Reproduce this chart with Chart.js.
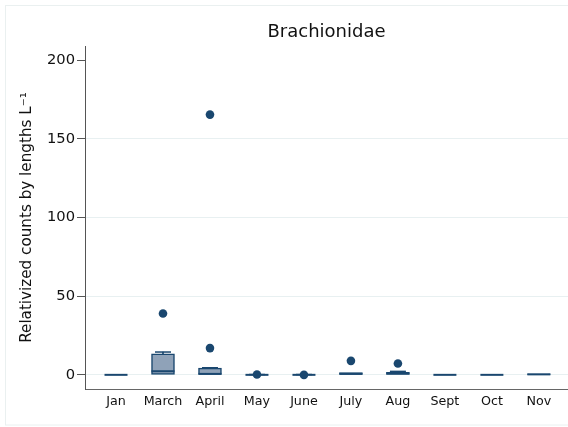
<!DOCTYPE html>
<html>
<head>
<meta charset="utf-8">
<script src="https://cdn.jsdelivr.net/npm/chart.js@4.4.0/dist/chart.umd.min.js"></script>
<style>
  html, body { margin: 0; padding: 0; background: #ffffff; }
  #wrap { width: 568px; height: 427px; }
</style>
</head>
<body>
<div id="wrap"><canvas id="c" width="568" height="427"></canvas></div>
<script>
// Données (boîtes à moustaches par mois)
const months = ['Jan', 'March', 'April', 'May', 'June', 'July', 'Aug', 'Sept', 'Oct', 'Nov']
const q1 = [0, 0.2, 0.2, 0, 0, 0.2, 0.2, 0, 0, 0]
const median = [0, 2.3, 0.6, 0, 0, 0.6, 0.8, 0, 0, 0.3]
const q3 = [0, 13.4, 4.3, 0, 0, 1.4, 1.6, 0, 0, 0.7]
const whiskerHi = [0, 14.5, 4.5, 0.2, 0.2, 1.4, 2.2, 0, 0, 0.7]
const outlierMonth = ['March', 'April', 'April', 'May', 'June', 'July', 'Aug']
const outlierValue = [39, 17, 165.4, 0.2, 0, 8.9, 7.2]
const yTicks = [0, 50, 100, 150, 200]

const navy = '#1a476f'
const boxFill = '#8fa2b8'
const font = 'DejaVu Sans, Liberation Sans, sans-serif'
const pos = m => months.indexOf(m) + 1

const boxes = months.map((m, i) => ({ x: i + 1, y: [q1[i], q3[i]] }))
  .filter(d => d.y[1] - d.y[0] > 0.5)
const whiskers = months.map((m, i) => ({ x: i + 1, y: [q3[i], whiskerHi[i]] }))
  .filter(d => d.y[1] > d.y[0])
const medians = months.map((m, i) => ({ x: i + 1, y: median[i] }))
const caps = months.map((m, i) => ({ x: i + 1, y: whiskerHi[i] }))
  .filter((d, i) => whiskerHi[i] > q3[i])
const outliers = outlierMonth.map((m, i) => ({ x: pos(m), y: outlierValue[i] }))

// cadre extérieur léger, façon Stata
const frame = {
  id: 'frame',
  beforeDraw(chart) {
    const ctx = chart.ctx
    ctx.save()
    ctx.strokeStyle = '#eaf0f0'
    ctx.lineWidth = 1
    ctx.strokeRect(5.5, 5.5, 600, 419.5)
    ctx.restore()
  }
}

new Chart(document.getElementById('c'), {
  type: 'bar',
  data: {
    datasets: [
      {
        label: 'box',
        data: boxes,
        backgroundColor: boxFill,
        borderColor: navy,
        borderWidth: 1.5,
        borderSkipped: false,
        barThickness: 23,
        grouped: false,
        order: 3
      },
      {
        label: 'whisker',
        data: whiskers,
        backgroundColor: navy,
        barThickness: 1,
        grouped: false,
        order: 2
      },
      {
        type: 'scatter',
        label: 'median',
        data: medians,
        pointStyle: 'line',
        radius: 11.5,
        borderColor: navy,
        borderWidth: 2,
        order: 1
      },
      {
        type: 'scatter',
        label: 'cap',
        data: caps,
        pointStyle: 'line',
        radius: 8,
        borderColor: navy,
        borderWidth: 1.5,
        order: 1
      },
      {
        type: 'scatter',
        label: 'outliers',
        data: outliers,
        pointStyle: 'circle',
        radius: 4.3,
        backgroundColor: navy,
        borderColor: navy,
        borderWidth: 0,
        order: 0
      }
    ]
  },
  options: {
    responsive: false,
    animation: false,
    layout: { autoPadding: false, padding: { left: 0, right: 0, top: 0, bottom: 0 } },
    plugins: {
      legend: { display: false },
      tooltip: { enabled: false },
      title: {
        display: true,
        text: 'Brachionidae',
        fullSize: false,
        color: '#111111',
        font: { family: font, size: 18, weight: 'normal' },
        padding: { top: 22, bottom: 2.4 }
      }
    },
    scales: {
      x: {
        type: 'linear',
        offset: false,
        min: 0.34,
        max: 10.62,
        afterFit: s => { s.height = 38; s.paddingLeft = 0; s.paddingRight = 0 },
        afterBuildTicks: s => { s.ticks = months.map((m, i) => ({ value: i + 1 })) },
        grid: { display: false },
        border: { color: '#666666', width: 1 },
        ticks: {
          autoSkip: false,
          maxRotation: 0,
          padding: -3,
          color: '#111111',
          font: { family: font, size: 12.7 },
          callback: v => months[v - 1]
        }
      },
      y: {
        min: -9,
        max: 209,
        afterFit: s => { s.width = 85 },
        afterBuildTicks: s => { s.ticks = yTicks.map(v => ({ value: v })) },
        grid: {
          color: c => c.tick && c.tick.value === 200 ? 'rgba(0,0,0,0)' : '#e8f0f1',
          tickColor: '#555555',
          tickLength: 8,
          lineWidth: 1
        },
        border: { color: '#555555', width: 1 },
        ticks: {
          padding: 2,
          color: '#111111',
          font: { family: font, size: 14.7 }
        },
        title: {
          display: true,
          text: 'Relativized counts by lengths L⁻¹',
          color: '#111111',
          font: { family: font, size: 15.2 },
          padding: { top: 18, bottom: 0 }
        }
      }
    }
  },
  plugins: [frame]
})
</script>
</body>
</html>
